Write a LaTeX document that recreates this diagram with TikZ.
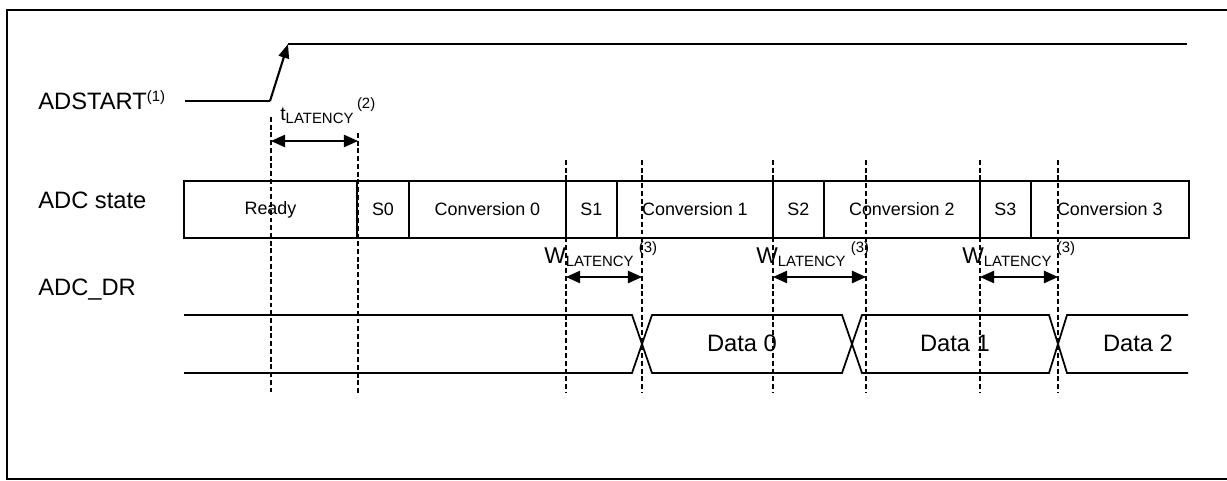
\documentclass[tikz,border=0pt]{standalone}
\usepackage{fontspec}
\setmainfont{Liberation Sans}
\usepackage{tikz}
\usetikzlibrary{chains,positioning,arrows.meta}

\newcommand{\latsub}{\raisebox{-2.2pt}{\fontsize{8.5}{10}\selectfont LATENCY}}
\newcommand{\fnote}[2]{\raisebox{#2}{\fontsize{8.5}{10}\selectfont(#1)}}

\begin{document}
\begin{tikzpicture}[x=0.02cm,y=-0.02cm]

        \tikzstyle{siglabel}=[anchor=base west,inner sep=0,font=\fontsize{13.5}{16}\selectfont]
        \tikzstyle{statecell}=[draw,line width=1pt,minimum height=1.14cm,inner sep=0,outer sep=0,font=\fontsize{10.2}{12}\selectfont]
        \tikzstyle{wave}=[line width=1.2pt]
        \tikzstyle{bus}=[line width=1pt]
        \tikzstyle{marker}=[line width=0.6pt,dash pattern=on 2.8pt off 1.6pt]
        \tikzstyle{latency}=[line width=0.8pt,{Triangle[length=8pt,width=7pt]}-{Triangle[length=8pt,width=7pt]}]

        \useasboundingbox (0,0) rectangle (1227,480);

        %% frame
        \draw[line width=0.8pt] (1227,10) -- (7,10) -- (7,479) -- (1227,479);

        %% signal names
        \node[siglabel] (adstart) at (38,109) {ADSTART\fnote{1}{4pt}};
        \node[siglabel] (adcstate) at (38,208) {ADC state};
        \node[siglabel] (adcdr) at (38,295) {ADC\_DR};

        %% ADSTART
        \coordinate (lowstart) at (185,101);
        \coordinate (rise) at (270,101);
        \coordinate (risetop) at (288,44);
        \coordinate (highend) at (1187,44);
        \draw[wave] (lowstart) -- (rise);
        \draw[wave,-{Triangle[length=8pt,width=6pt]}] (rise) -- (risetop);
        \draw[wave] (risetop) -- (highend);

        %% ADC state
        \begin{scope}[shift={(184,209.5)},start chain=state going right,node distance=0pt]
            \node [on chain=state,statecell,anchor=west,minimum width=3.46cm] (ready) {Ready};
            \node [on chain=state,statecell,minimum width=1.04cm] (s0) {S0};
            \node [on chain=state,statecell,minimum width=3.14cm] (conv0) {Conversion 0};
            \node [on chain=state,statecell,minimum width=1.02cm] (s1) {S1};
            \node [on chain=state,statecell,minimum width=3.12cm] (conv1) {Conversion 1};
            \node [on chain=state,statecell,minimum width=1.02cm] (s2) {S2};
            \node [on chain=state,statecell,minimum width=3.12cm] (conv2) {Conversion 2};
            \node [on chain=state,statecell,minimum width=1.02cm] (s3) {S3};
            \node [on chain=state,statecell,minimum width=3.16cm] (conv3) {Conversion 3};
        \end{scope}

        %% ADC_DR
        \draw[bus] (184,315) -- (632,315) -- (652,373) -- (842,373) -- (862,315) -- (1049,315) -- (1067,373) -- (1188,373);
        \draw[bus] (184,373) -- (632,373) -- (652,315) -- (842,315) -- (862,373) -- (1049,373) -- (1067,315) -- (1188,315);
        \node[font=\fontsize{13.5}{16}\selectfont] (data0) at (742,343) {Data 0};
        \node[font=\fontsize{13.5}{16}\selectfont] (data1) at (955,343) {Data 1};
        \node[font=\fontsize{13.5}{16}\selectfont] (data2) at (1138,343) {Data 2};

        %% dashed markers
        \foreach \n/\x/\y in {1/271/117,2/358/133,3/566/160,4/642/160,5/773/160,6/866/160,7/980/160,8/1058/160}
        {
            \coordinate (m\n top) at (\x,\y);
            \coordinate (m\n bot) at (\x,393);
            \draw[marker] (m\n top) -- (m\n bot);
        }

        %% latencies
        \draw[latency] (m1top |- 0,141) -- (m2top |- 0,141);
        \draw[latency] (m3top |- 0,277) -- (m4top |- 0,277);
        \draw[latency] (m5top |- 0,277) -- (m6top |- 0,277);
        \draw[latency] (m7top |- 0,277) -- (m8top |- 0,277);

        \node[anchor=base west,inner sep=0,font=\fontsize{11}{13}\selectfont] (tlat) at (280,120) {t\latsub\hspace{2pt}\fnote{2}{6.5pt}};
        \node[siglabel,font=\fontsize{13}{15}\selectfont] (wlat1) at (544,263) {W\latsub\hspace{3pt}\fnote{3}{6pt}};
        \node[siglabel,font=\fontsize{13}{15}\selectfont] (wlat2) at (756,263) {W\latsub\hspace{3pt}\fnote{3}{6pt}};
        \node[siglabel,font=\fontsize{13}{15}\selectfont] (wlat3) at (962,263) {W\latsub\hspace{3pt}\fnote{3}{6pt}};

\end{tikzpicture}
\end{document}
